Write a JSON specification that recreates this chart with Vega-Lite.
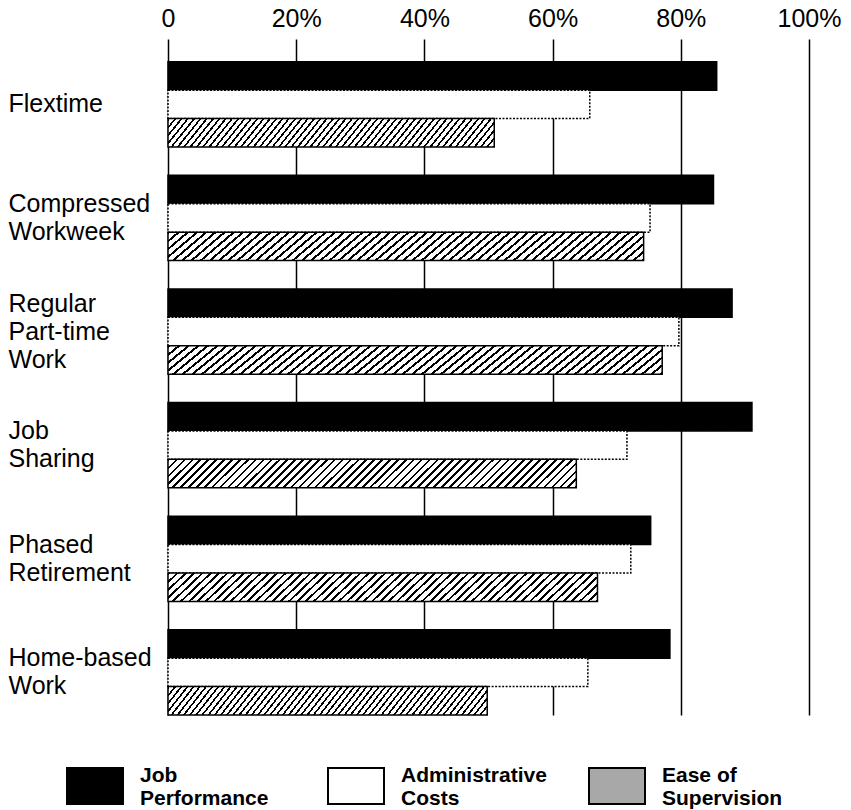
{
  "$schema": "https://vega.github.io/schema/vega-lite/v6.json",
  "autosize": {"type": "none"},
  "padding": {"left": 168, "top": 39, "right": 42, "bottom": 95},
  "width": 641,
  "height": 676,
  "background": "white",
  "config": {"view": {"stroke": null}, "font": "Liberation Sans"},
  "data": {
    "values": [
      {"program": "Flextime", "series": "Job Performance", "pct": 85.6},
      {"program": "Flextime", "series": "Administrative Costs", "pct": 65.8},
      {"program": "Flextime", "series": "Ease of Supervision", "pct": 50.9},
      {"program": "Compressed Workweek", "series": "Job Performance", "pct": 85.1},
      {"program": "Compressed Workweek", "series": "Administrative Costs", "pct": 75.2},
      {"program": "Compressed Workweek", "series": "Ease of Supervision", "pct": 74.2},
      {"program": "Regular Part-time Work", "series": "Job Performance", "pct": 88.0},
      {"program": "Regular Part-time Work", "series": "Administrative Costs", "pct": 79.7},
      {"program": "Regular Part-time Work", "series": "Ease of Supervision", "pct": 77.1},
      {"program": "Job Sharing", "series": "Job Performance", "pct": 91.1},
      {"program": "Job Sharing", "series": "Administrative Costs", "pct": 71.6},
      {"program": "Job Sharing", "series": "Ease of Supervision", "pct": 63.7},
      {"program": "Phased Retirement", "series": "Job Performance", "pct": 75.3},
      {"program": "Phased Retirement", "series": "Administrative Costs", "pct": 72.2},
      {"program": "Phased Retirement", "series": "Ease of Supervision", "pct": 67.0},
      {"program": "Home-based Work", "series": "Job Performance", "pct": 78.3},
      {"program": "Home-based Work", "series": "Administrative Costs", "pct": 65.5},
      {"program": "Home-based Work", "series": "Ease of Supervision", "pct": 49.8}
    ]
  },
  "mark": {"type": "bar", "stroke": "black", "strokeWidth": 1.5},
  "encoding": {
    "x": {
      "field": "pct", "type": "quantitative",
      "scale": {"domain": [0, 100], "nice": false},
      "axis": {
        "orient": "top", "title": null, "values": [0, 20, 40, 60, 80, 100],
        "labelExpr": "datum.value == 0 ? '0' : datum.value + '%'",
        "ticks": false, "tickSize": 0, "domain": false,
        "grid": true, "gridColor": "black", "gridWidth": 1.5, "gridOpacity": 1,
        "labelFont": "Liberation Sans", "labelFontSize": 25, "labelColor": "black",
        "labelBaseline": "alphabetic", "labelPadding": 13, "labelFlush": false
      }
    },
    "y": {
      "field": "program", "type": "nominal",
      "sort": ["Flextime", "Compressed Workweek", "Regular Part-time Work", "Job Sharing", "Phased Retirement", "Home-based Work"],
      "scale": {"paddingInner": 0.25, "paddingOuter": 0.1, "align": 1},
      "axis": {
        "title": null, "ticks": false, "tickSize": 0, "domain": false, "grid": false,
        "labelExpr": "split(datum.label, ' ')",
        "labelAlign": "left", "labelPadding": 160, "labelBaseline": "middle",
        "labelOffset": {
          "condition": [
            {"test": "datum.value === 'Flextime'", "value": 0},
            {"test": "datum.value === 'Regular Part-time Work'", "value": -28}
          ],
          "value": -14
        },
        "labelFont": "Liberation Sans", "labelFontSize": 25, "labelLineHeight": 28,
        "labelColor": "black", "labelLimit": 300
      }
    },
    "yOffset": {
      "field": "series", "type": "nominal",
      "sort": ["Job Performance", "Administrative Costs", "Ease of Supervision"],
      "scale": {"paddingInner": 0, "paddingOuter": 0}
    },
    "strokeDash": {
      "condition": {"test": "datum.series === 'Administrative Costs'", "value": [2, 1.5]},
      "value": [1, 0]
    },
    "fill": {
      "condition": {"test": "datum.series === 'Ease of Supervision'", "value": {
          "gradient": "linear", "x1": 0, "y1": 0, "x2": 1.07, "y2": 0.075,
          "stops": [
            {"offset":0,"color":"#000"},{"offset":0.006,"color":"#000"},{"offset":0.006,"color":"#fff"},{"offset":0.018,"color":"#fff"},
            {"offset":0.018,"color":"#000"},{"offset":0.024,"color":"#000"},{"offset":0.024,"color":"#fff"},{"offset":0.036,"color":"#fff"},
            {"offset":0.036,"color":"#000"},{"offset":0.042,"color":"#000"},{"offset":0.042,"color":"#fff"},{"offset":0.054,"color":"#fff"},
            {"offset":0.054,"color":"#000"},{"offset":0.06,"color":"#000"},{"offset":0.06,"color":"#fff"},{"offset":0.072,"color":"#fff"},
            {"offset":0.072,"color":"#000"},{"offset":0.078,"color":"#000"},{"offset":0.078,"color":"#fff"},{"offset":0.09,"color":"#fff"},
            {"offset":0.09,"color":"#000"},{"offset":0.096,"color":"#000"},{"offset":0.096,"color":"#fff"},{"offset":0.108,"color":"#fff"},
            {"offset":0.108,"color":"#000"},{"offset":0.114,"color":"#000"},{"offset":0.114,"color":"#fff"},{"offset":0.126,"color":"#fff"},
            {"offset":0.126,"color":"#000"},{"offset":0.132,"color":"#000"},{"offset":0.132,"color":"#fff"},{"offset":0.144,"color":"#fff"},
            {"offset":0.144,"color":"#000"},{"offset":0.15,"color":"#000"},{"offset":0.15,"color":"#fff"},{"offset":0.162,"color":"#fff"},
            {"offset":0.162,"color":"#000"},{"offset":0.168,"color":"#000"},{"offset":0.168,"color":"#fff"},{"offset":0.18,"color":"#fff"},
            {"offset":0.18,"color":"#000"},{"offset":0.186,"color":"#000"},{"offset":0.186,"color":"#fff"},{"offset":0.198,"color":"#fff"},
            {"offset":0.198,"color":"#000"},{"offset":0.204,"color":"#000"},{"offset":0.204,"color":"#fff"},{"offset":0.216,"color":"#fff"},
            {"offset":0.216,"color":"#000"},{"offset":0.222,"color":"#000"},{"offset":0.222,"color":"#fff"},{"offset":0.234,"color":"#fff"},
            {"offset":0.234,"color":"#000"},{"offset":0.24,"color":"#000"},{"offset":0.24,"color":"#fff"},{"offset":0.252,"color":"#fff"},
            {"offset":0.252,"color":"#000"},{"offset":0.258,"color":"#000"},{"offset":0.258,"color":"#fff"},{"offset":0.27,"color":"#fff"},
            {"offset":0.27,"color":"#000"},{"offset":0.276,"color":"#000"},{"offset":0.276,"color":"#fff"},{"offset":0.288,"color":"#fff"},
            {"offset":0.288,"color":"#000"},{"offset":0.294,"color":"#000"},{"offset":0.294,"color":"#fff"},{"offset":0.306,"color":"#fff"},
            {"offset":0.306,"color":"#000"},{"offset":0.312,"color":"#000"},{"offset":0.312,"color":"#fff"},{"offset":0.324,"color":"#fff"},
            {"offset":0.324,"color":"#000"},{"offset":0.33,"color":"#000"},{"offset":0.33,"color":"#fff"},{"offset":0.342,"color":"#fff"},
            {"offset":0.342,"color":"#000"},{"offset":0.348,"color":"#000"},{"offset":0.348,"color":"#fff"},{"offset":0.36,"color":"#fff"},
            {"offset":0.36,"color":"#000"},{"offset":0.366,"color":"#000"},{"offset":0.366,"color":"#fff"},{"offset":0.378,"color":"#fff"},
            {"offset":0.378,"color":"#000"},{"offset":0.384,"color":"#000"},{"offset":0.384,"color":"#fff"},{"offset":0.396,"color":"#fff"},
            {"offset":0.396,"color":"#000"},{"offset":0.402,"color":"#000"},{"offset":0.402,"color":"#fff"},{"offset":0.414,"color":"#fff"},
            {"offset":0.414,"color":"#000"},{"offset":0.42,"color":"#000"},{"offset":0.42,"color":"#fff"},{"offset":0.432,"color":"#fff"},
            {"offset":0.432,"color":"#000"},{"offset":0.438,"color":"#000"},{"offset":0.438,"color":"#fff"},{"offset":0.45,"color":"#fff"},
            {"offset":0.45,"color":"#000"},{"offset":0.456,"color":"#000"},{"offset":0.456,"color":"#fff"},{"offset":0.468,"color":"#fff"},
            {"offset":0.468,"color":"#000"},{"offset":0.474,"color":"#000"},{"offset":0.474,"color":"#fff"},{"offset":0.486,"color":"#fff"},
            {"offset":0.486,"color":"#000"},{"offset":0.492,"color":"#000"},{"offset":0.492,"color":"#fff"},{"offset":0.504,"color":"#fff"},
            {"offset":0.504,"color":"#000"},{"offset":0.51,"color":"#000"},{"offset":0.51,"color":"#fff"},{"offset":0.522,"color":"#fff"},
            {"offset":0.522,"color":"#000"},{"offset":0.528,"color":"#000"},{"offset":0.528,"color":"#fff"},{"offset":0.54,"color":"#fff"},
            {"offset":0.54,"color":"#000"},{"offset":0.546,"color":"#000"},{"offset":0.546,"color":"#fff"},{"offset":0.558,"color":"#fff"},
            {"offset":0.558,"color":"#000"},{"offset":0.564,"color":"#000"},{"offset":0.564,"color":"#fff"},{"offset":0.576,"color":"#fff"},
            {"offset":0.576,"color":"#000"},{"offset":0.582,"color":"#000"},{"offset":0.582,"color":"#fff"},{"offset":0.594,"color":"#fff"},
            {"offset":0.594,"color":"#000"},{"offset":0.6,"color":"#000"},{"offset":0.6,"color":"#fff"},{"offset":0.612,"color":"#fff"},
            {"offset":0.612,"color":"#000"},{"offset":0.618,"color":"#000"},{"offset":0.618,"color":"#fff"},{"offset":0.63,"color":"#fff"},
            {"offset":0.63,"color":"#000"},{"offset":0.636,"color":"#000"},{"offset":0.636,"color":"#fff"},{"offset":0.648,"color":"#fff"},
            {"offset":0.648,"color":"#000"},{"offset":0.654,"color":"#000"},{"offset":0.654,"color":"#fff"},{"offset":0.666,"color":"#fff"},
            {"offset":0.666,"color":"#000"},{"offset":0.672,"color":"#000"},{"offset":0.672,"color":"#fff"},{"offset":0.684,"color":"#fff"},
            {"offset":0.684,"color":"#000"},{"offset":0.69,"color":"#000"},{"offset":0.69,"color":"#fff"},{"offset":0.702,"color":"#fff"},
            {"offset":0.702,"color":"#000"},{"offset":0.708,"color":"#000"},{"offset":0.708,"color":"#fff"},{"offset":0.72,"color":"#fff"},
            {"offset":0.72,"color":"#000"},{"offset":0.726,"color":"#000"},{"offset":0.726,"color":"#fff"},{"offset":0.738,"color":"#fff"},
            {"offset":0.738,"color":"#000"},{"offset":0.744,"color":"#000"},{"offset":0.744,"color":"#fff"},{"offset":0.756,"color":"#fff"},
            {"offset":0.756,"color":"#000"},{"offset":0.762,"color":"#000"},{"offset":0.762,"color":"#fff"},{"offset":0.774,"color":"#fff"},
            {"offset":0.774,"color":"#000"},{"offset":0.78,"color":"#000"},{"offset":0.78,"color":"#fff"},{"offset":0.792,"color":"#fff"},
            {"offset":0.792,"color":"#000"},{"offset":0.798,"color":"#000"},{"offset":0.798,"color":"#fff"},{"offset":0.81,"color":"#fff"},
            {"offset":0.81,"color":"#000"},{"offset":0.816,"color":"#000"},{"offset":0.816,"color":"#fff"},{"offset":0.828,"color":"#fff"},
            {"offset":0.828,"color":"#000"},{"offset":0.834,"color":"#000"},{"offset":0.834,"color":"#fff"},{"offset":0.846,"color":"#fff"},
            {"offset":0.846,"color":"#000"},{"offset":0.852,"color":"#000"},{"offset":0.852,"color":"#fff"},{"offset":0.864,"color":"#fff"},
            {"offset":0.864,"color":"#000"},{"offset":0.87,"color":"#000"},{"offset":0.87,"color":"#fff"},{"offset":0.882,"color":"#fff"},
            {"offset":0.882,"color":"#000"},{"offset":0.888,"color":"#000"},{"offset":0.888,"color":"#fff"},{"offset":0.9,"color":"#fff"},
            {"offset":0.9,"color":"#000"},{"offset":0.906,"color":"#000"},{"offset":0.906,"color":"#fff"},{"offset":0.918,"color":"#fff"},
            {"offset":0.918,"color":"#000"},{"offset":0.924,"color":"#000"},{"offset":0.924,"color":"#fff"},{"offset":0.936,"color":"#fff"},
            {"offset":0.936,"color":"#000"},{"offset":0.942,"color":"#000"},{"offset":0.942,"color":"#fff"},{"offset":0.954,"color":"#fff"},
            {"offset":0.954,"color":"#000"},{"offset":0.96,"color":"#000"},{"offset":0.96,"color":"#fff"},{"offset":0.972,"color":"#fff"},
            {"offset":0.972,"color":"#000"},{"offset":0.978,"color":"#000"},{"offset":0.978,"color":"#fff"},{"offset":0.99,"color":"#fff"},
            {"offset":0.99,"color":"#000"},{"offset":0.996,"color":"#000"},{"offset":0.996,"color":"#fff"},{"offset":1,"color":"#fff"}
          ]
        }},
      "field": "series", "type": "nominal",
      "scale": {
        "domain": ["Job Performance", "Administrative Costs", "Ease of Supervision"],
        "range": ["black", "white", "#a8a8a8"]
      },
      "legend": {
        "orient": "none", "legendX": -102, "legendY": 718,
        "direction": "horizontal", "columns": 3, "gridAlign": "all", "columnPadding": 38,
        "title": null,
        "symbolType": "M-1,-0.643H1V0.643H-1Z", "symbolSize": 3136,
        "symbolStrokeWidth": 2, "symbolOpacity": 1,
        "labelExpr": "datum.label == 'Ease of Supervision' ? ['Ease of', 'Supervision'] : split(datum.label, ' ')",
        "labelFont": "Liberation Sans", "labelFontWeight": "bold",
        "labelFontSize": 21, "labelLineHeight": 23, "labelColor": "black", "labelOffset": 16,
        "labelBaseline": "bottom",
        "labelLimit": 300
      }
    }
  }
}
